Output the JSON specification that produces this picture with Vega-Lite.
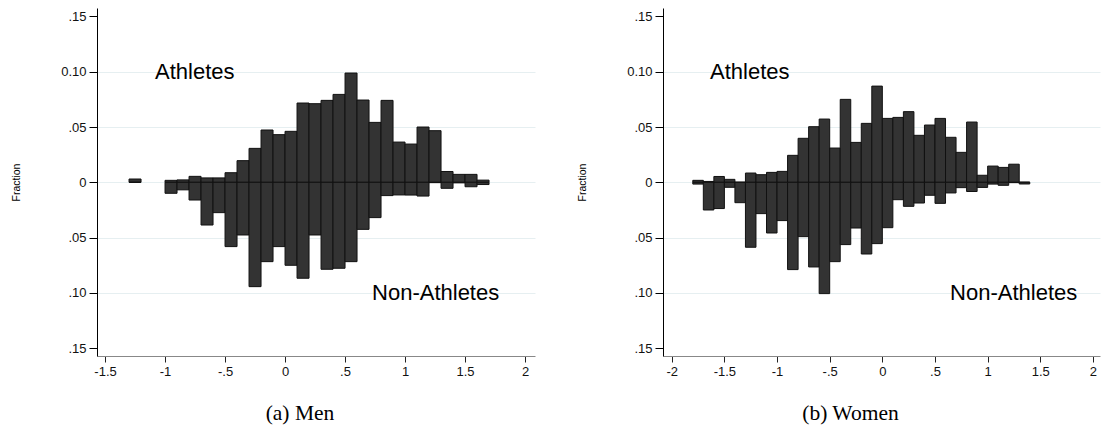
{
  "$schema": "https://vega.github.io/schema/vega-lite/v6.json",
  "autosize": {"type": "pad"},
  "padding": {"left": 11, "top": 8, "right": 2, "bottom": 0},
  "bounds": "flush",
  "spacing": 128,
  "background": "white",
  "config": {
    "view": {"stroke": null},
    "font": "Liberation Sans",
    "axisY": {
      "values": [-0.15, -0.1, -0.05, 0, 0.05, 0.1, 0.15],
      "labelExpr": "abs(datum.value - 0.1) < 0.001 ? '0.10' : abs(datum.value) < 0.001 ? '0' : replace(format(abs(datum.value), '.2f'), '0.', '.')",
      "titleFont": "Liberation Sans",
      "titleFontSize": 10.5,
      "titleFontWeight": "normal",
      "titleColor": "#000000",
      "titlePadding": 39,
      "labelFont": "Liberation Sans",
      "labelFontSize": 13,
      "labelColor": "#111111",
      "labelPadding": 3,
      "tickSize": 8,
      "tickColor": "#000000",
      "domainColor": "#000000",
      "grid": true,
      "gridColor": "#e6eff1",
      "gridOpacity": {"condition": {"test": "abs(datum.value) > 0.12", "value": 0}, "value": 1}
    },
    "axisX": {
      "title": null,
      "grid": false,
      "labelExpr": "(datum.value < 0 ? '-' : '') + replace(toString(abs(datum.value)), '0.', '.')",
      "labelFont": "Liberation Sans",
      "labelFontSize": 13,
      "labelColor": "#111111",
      "labelPadding": 3,
      "tickSize": 6,
      "tickColor": "#222222",
      "domainColor": "#888888"
    }
  },
  "hconcat": [
    {
      "width": 438,
      "height": 348,
      "title": {"text": "(a)  Men", "orient": "bottom", "anchor": "middle", "font": "Liberation Serif", "fontSize": 21.5, "fontWeight": "normal", "color": "#000000", "offset": 25, "dx": -16},
      "layer": [
        {
          "data": {"values": [
            {"bin": -1.3, "end": -1.2, "group": "Athletes", "fraction": 0.003},
            {"bin": -1.0, "end": -0.9, "group": "Athletes", "fraction": 0.0018},
            {"bin": -0.9, "end": -0.8, "group": "Athletes", "fraction": 0.0022},
            {"bin": -0.8, "end": -0.7, "group": "Athletes", "fraction": 0.0054},
            {"bin": -0.7, "end": -0.6, "group": "Athletes", "fraction": 0.004},
            {"bin": -0.6, "end": -0.5, "group": "Athletes", "fraction": 0.004},
            {"bin": -0.5, "end": -0.4, "group": "Athletes", "fraction": 0.0087},
            {"bin": -0.4, "end": -0.3, "group": "Athletes", "fraction": 0.0196},
            {"bin": -0.3, "end": -0.2, "group": "Athletes", "fraction": 0.0307},
            {"bin": -0.2, "end": -0.1, "group": "Athletes", "fraction": 0.0473},
            {"bin": -0.1, "end": 0.0, "group": "Athletes", "fraction": 0.0431},
            {"bin": 0.0, "end": 0.1, "group": "Athletes", "fraction": 0.0461},
            {"bin": 0.1, "end": 0.2, "group": "Athletes", "fraction": 0.0717},
            {"bin": 0.2, "end": 0.3, "group": "Athletes", "fraction": 0.0711},
            {"bin": 0.3, "end": 0.4, "group": "Athletes", "fraction": 0.0741},
            {"bin": 0.4, "end": 0.5, "group": "Athletes", "fraction": 0.0795},
            {"bin": 0.5, "end": 0.6, "group": "Athletes", "fraction": 0.0988},
            {"bin": 0.6, "end": 0.7, "group": "Athletes", "fraction": 0.0744},
            {"bin": 0.7, "end": 0.8, "group": "Athletes", "fraction": 0.0542},
            {"bin": 0.8, "end": 0.9, "group": "Athletes", "fraction": 0.0741},
            {"bin": 0.9, "end": 1.0, "group": "Athletes", "fraction": 0.0364},
            {"bin": 1.0, "end": 1.1, "group": "Athletes", "fraction": 0.0346},
            {"bin": 1.1, "end": 1.2, "group": "Athletes", "fraction": 0.05},
            {"bin": 1.2, "end": 1.3, "group": "Athletes", "fraction": 0.0467},
            {"bin": 1.3, "end": 1.4, "group": "Athletes", "fraction": 0.0098},
            {"bin": 1.4, "end": 1.5, "group": "Athletes", "fraction": 0.0072},
            {"bin": 1.5, "end": 1.6, "group": "Athletes", "fraction": 0.0072},
            {"bin": 1.6, "end": 1.7, "group": "Athletes", "fraction": 0.002},
            {"bin": -1.3, "end": -1.2, "group": "Non-Athletes", "fraction": 0.0},
            {"bin": -1.0, "end": -0.9, "group": "Non-Athletes", "fraction": -0.0099},
            {"bin": -0.9, "end": -0.8, "group": "Non-Athletes", "fraction": -0.0068},
            {"bin": -0.8, "end": -0.7, "group": "Non-Athletes", "fraction": -0.016},
            {"bin": -0.7, "end": -0.6, "group": "Non-Athletes", "fraction": -0.0386},
            {"bin": -0.6, "end": -0.5, "group": "Non-Athletes", "fraction": -0.0274},
            {"bin": -0.5, "end": -0.4, "group": "Non-Athletes", "fraction": -0.0581},
            {"bin": -0.4, "end": -0.3, "group": "Non-Athletes", "fraction": -0.0476},
            {"bin": -0.3, "end": -0.2, "group": "Non-Athletes", "fraction": -0.0943},
            {"bin": -0.2, "end": -0.1, "group": "Non-Athletes", "fraction": -0.0717},
            {"bin": -0.1, "end": 0.0, "group": "Non-Athletes", "fraction": -0.0581},
            {"bin": 0.0, "end": 0.1, "group": "Non-Athletes", "fraction": -0.075},
            {"bin": 0.1, "end": 0.2, "group": "Non-Athletes", "fraction": -0.0867},
            {"bin": 0.2, "end": 0.3, "group": "Non-Athletes", "fraction": -0.0476},
            {"bin": 0.3, "end": 0.4, "group": "Non-Athletes", "fraction": -0.0786},
            {"bin": 0.4, "end": 0.5, "group": "Non-Athletes", "fraction": -0.0777},
            {"bin": 0.5, "end": 0.6, "group": "Non-Athletes", "fraction": -0.0717},
            {"bin": 0.6, "end": 0.7, "group": "Non-Athletes", "fraction": -0.0425},
            {"bin": 0.7, "end": 0.8, "group": "Non-Athletes", "fraction": -0.0319},
            {"bin": 0.8, "end": 0.9, "group": "Non-Athletes", "fraction": -0.012},
            {"bin": 0.9, "end": 1.0, "group": "Non-Athletes", "fraction": -0.0114},
            {"bin": 1.0, "end": 1.1, "group": "Non-Athletes", "fraction": -0.0115},
            {"bin": 1.1, "end": 1.2, "group": "Non-Athletes", "fraction": -0.0124},
            {"bin": 1.2, "end": 1.3, "group": "Non-Athletes", "fraction": -0.0003},
            {"bin": 1.3, "end": 1.4, "group": "Non-Athletes", "fraction": -0.0054},
            {"bin": 1.4, "end": 1.5, "group": "Non-Athletes", "fraction": -0.0005},
            {"bin": 1.5, "end": 1.6, "group": "Non-Athletes", "fraction": -0.004},
            {"bin": 1.6, "end": 1.7, "group": "Non-Athletes", "fraction": -0.002}
          ]},
          "mark": {"type": "bar", "fill": "#333333", "stroke": "#111111", "strokeWidth": 1},
          "encoding": {
            "x": {"field": "bin", "type": "quantitative", "scale": {"domain": [-1.567, 2.083], "nice": false, "zero": false}, "axis": {"values": [-1.5, -1, -0.5, 0, 0.5, 1, 1.5, 2]}},
            "x2": {"field": "end"},
            "y": {"field": "fraction", "type": "quantitative", "title": "Fraction", "scale": {"domain": [-0.157, 0.1576], "nice": false, "zero": false}},
            "y2": {"datum": 0}
          }
        },
        {
          "data": {"values": [
            {"label": "Athletes", "lx": -1.083, "ly": 0.1},
            {"label": "Non-Athletes", "lx": 0.725, "ly": -0.1}
          ]},
          "mark": {"type": "text", "align": "left", "baseline": "middle", "font": "Liberation Sans", "fontSize": 22, "color": "#000000"},
          "encoding": {
            "x": {"field": "lx", "type": "quantitative"},
            "y": {"field": "ly", "type": "quantitative"},
            "text": {"field": "label"}
          }
        }
      ]
    },
    {
      "width": 437,
      "height": 348,
      "title": {"text": "(b)  Women", "orient": "bottom", "anchor": "middle", "font": "Liberation Serif", "fontSize": 21.5, "fontWeight": "normal", "color": "#000000", "offset": 25, "dx": -31},
      "layer": [
        {
          "data": {"values": [
            {"bin": -1.8, "end": -1.7, "group": "Athletes", "fraction": 0.0018},
            {"bin": -1.7, "end": -1.6, "group": "Athletes", "fraction": 0.0008},
            {"bin": -1.6, "end": -1.5, "group": "Athletes", "fraction": 0.0053},
            {"bin": -1.5, "end": -1.4, "group": "Athletes", "fraction": 0.0027},
            {"bin": -1.4, "end": -1.3, "group": "Athletes", "fraction": 0.0002},
            {"bin": -1.3, "end": -1.2, "group": "Athletes", "fraction": 0.0084},
            {"bin": -1.2, "end": -1.1, "group": "Athletes", "fraction": 0.0069},
            {"bin": -1.1, "end": -1.0, "group": "Athletes", "fraction": 0.009},
            {"bin": -1.0, "end": -0.9, "group": "Athletes", "fraction": 0.0099},
            {"bin": -0.9, "end": -0.8, "group": "Athletes", "fraction": 0.0244},
            {"bin": -0.8, "end": -0.7, "group": "Athletes", "fraction": 0.0398},
            {"bin": -0.7, "end": -0.6, "group": "Athletes", "fraction": 0.0503},
            {"bin": -0.6, "end": -0.5, "group": "Athletes", "fraction": 0.0572},
            {"bin": -0.5, "end": -0.4, "group": "Athletes", "fraction": 0.031},
            {"bin": -0.4, "end": -0.3, "group": "Athletes", "fraction": 0.075},
            {"bin": -0.3, "end": -0.2, "group": "Athletes", "fraction": 0.0361},
            {"bin": -0.2, "end": -0.1, "group": "Athletes", "fraction": 0.0533},
            {"bin": -0.1, "end": 0.0, "group": "Athletes", "fraction": 0.087},
            {"bin": 0.0, "end": 0.1, "group": "Athletes", "fraction": 0.0578},
            {"bin": 0.1, "end": 0.2, "group": "Athletes", "fraction": 0.0587},
            {"bin": 0.2, "end": 0.3, "group": "Athletes", "fraction": 0.0639},
            {"bin": 0.3, "end": 0.4, "group": "Athletes", "fraction": 0.0425},
            {"bin": 0.4, "end": 0.5, "group": "Athletes", "fraction": 0.0518},
            {"bin": 0.5, "end": 0.6, "group": "Athletes", "fraction": 0.0578},
            {"bin": 0.6, "end": 0.7, "group": "Athletes", "fraction": 0.0407},
            {"bin": 0.7, "end": 0.8, "group": "Athletes", "fraction": 0.0271},
            {"bin": 0.8, "end": 0.9, "group": "Athletes", "fraction": 0.0545},
            {"bin": 0.9, "end": 1.0, "group": "Athletes", "fraction": 0.0064},
            {"bin": 1.0, "end": 1.1, "group": "Athletes", "fraction": 0.0147},
            {"bin": 1.1, "end": 1.2, "group": "Athletes", "fraction": 0.0135},
            {"bin": 1.2, "end": 1.3, "group": "Athletes", "fraction": 0.0164},
            {"bin": 1.3, "end": 1.4, "group": "Athletes", "fraction": 0.0002},
            {"bin": -1.8, "end": -1.7, "group": "Non-Athletes", "fraction": -0.0016},
            {"bin": -1.7, "end": -1.6, "group": "Non-Athletes", "fraction": -0.025},
            {"bin": -1.6, "end": -1.5, "group": "Non-Athletes", "fraction": -0.0237},
            {"bin": -1.5, "end": -1.4, "group": "Non-Athletes", "fraction": -0.0045},
            {"bin": -1.4, "end": -1.3, "group": "Non-Athletes", "fraction": -0.0184},
            {"bin": -1.3, "end": -1.2, "group": "Non-Athletes", "fraction": -0.0587},
            {"bin": -1.2, "end": -1.1, "group": "Non-Athletes", "fraction": -0.0283},
            {"bin": -1.1, "end": -1.0, "group": "Non-Athletes", "fraction": -0.0458},
            {"bin": -1.0, "end": -0.9, "group": "Non-Athletes", "fraction": -0.0346},
            {"bin": -0.9, "end": -0.8, "group": "Non-Athletes", "fraction": -0.0789},
            {"bin": -0.8, "end": -0.7, "group": "Non-Athletes", "fraction": -0.0491},
            {"bin": -0.7, "end": -0.6, "group": "Non-Athletes", "fraction": -0.0765},
            {"bin": -0.6, "end": -0.5, "group": "Non-Athletes", "fraction": -0.1006},
            {"bin": -0.5, "end": -0.4, "group": "Non-Athletes", "fraction": -0.0717},
            {"bin": -0.4, "end": -0.3, "group": "Non-Athletes", "fraction": -0.0563},
            {"bin": -0.3, "end": -0.2, "group": "Non-Athletes", "fraction": -0.0413},
            {"bin": -0.2, "end": -0.1, "group": "Non-Athletes", "fraction": -0.0648},
            {"bin": -0.1, "end": 0.0, "group": "Non-Athletes", "fraction": -0.0554},
            {"bin": 0.0, "end": 0.1, "group": "Non-Athletes", "fraction": -0.041},
            {"bin": 0.1, "end": 0.2, "group": "Non-Athletes", "fraction": -0.0157},
            {"bin": 0.2, "end": 0.3, "group": "Non-Athletes", "fraction": -0.0217},
            {"bin": 0.3, "end": 0.4, "group": "Non-Athletes", "fraction": -0.0187},
            {"bin": 0.4, "end": 0.5, "group": "Non-Athletes", "fraction": -0.0117},
            {"bin": 0.5, "end": 0.6, "group": "Non-Athletes", "fraction": -0.019},
            {"bin": 0.6, "end": 0.7, "group": "Non-Athletes", "fraction": -0.0096},
            {"bin": 0.7, "end": 0.8, "group": "Non-Athletes", "fraction": -0.0048},
            {"bin": 0.8, "end": 0.9, "group": "Non-Athletes", "fraction": -0.0083},
            {"bin": 0.9, "end": 1.0, "group": "Non-Athletes", "fraction": -0.0046},
            {"bin": 1.0, "end": 1.1, "group": "Non-Athletes", "fraction": -0.0016},
            {"bin": 1.1, "end": 1.2, "group": "Non-Athletes", "fraction": -0.0027},
            {"bin": 1.2, "end": 1.3, "group": "Non-Athletes", "fraction": -0.0003},
            {"bin": 1.3, "end": 1.4, "group": "Non-Athletes", "fraction": -0.0015}
          ]},
          "mark": {"type": "bar", "fill": "#333333", "stroke": "#111111", "strokeWidth": 1},
          "encoding": {
            "x": {"field": "bin", "type": "quantitative", "scale": {"domain": [-2.083, 2.067], "nice": false, "zero": false}, "axis": {"values": [-2, -1.5, -1, -0.5, 0, 0.5, 1, 1.5, 2]}},
            "x2": {"field": "end"},
            "y": {"field": "fraction", "type": "quantitative", "title": "Fraction", "scale": {"domain": [-0.157, 0.1576], "nice": false, "zero": false}},
            "y2": {"datum": 0}
          }
        },
        {
          "data": {"values": [
            {"label": "Athletes", "lx": -1.636, "ly": 0.1},
            {"label": "Non-Athletes", "lx": 0.643, "ly": -0.1}
          ]},
          "mark": {"type": "text", "align": "left", "baseline": "middle", "font": "Liberation Sans", "fontSize": 22, "color": "#000000"},
          "encoding": {
            "x": {"field": "lx", "type": "quantitative"},
            "y": {"field": "ly", "type": "quantitative"},
            "text": {"field": "label"}
          }
        }
      ]
    }
  ]
}
